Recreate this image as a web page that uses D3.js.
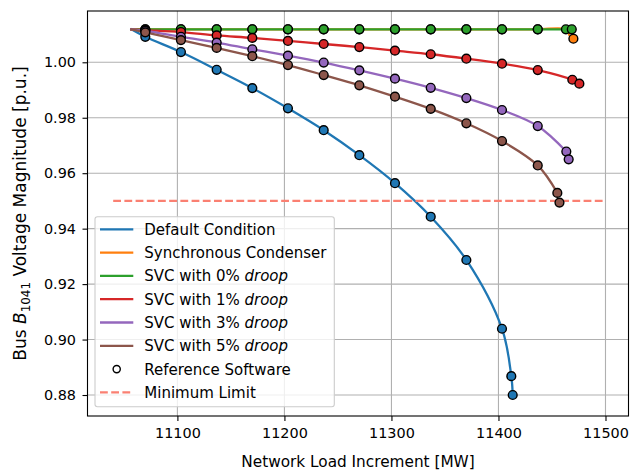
<!DOCTYPE html>
<html>
<head>
<meta charset="utf-8">
<script src="https://cdn.jsdelivr.net/npm/d3@7"></script>
<style>
  body { margin: 0; background: #fff; }
  text { font-family: "DejaVu Sans", sans-serif; }
</style>
</head>
<body>
<div id="chart"></div>
<script>
// load steps used by the reference software [MW]
const loadSteps = [11070, 11103.3, 11136.7, 11170, 11203.3, 11236.7, 11270, 11303.3, 11336.7, 11370, 11403.3, 11436.7];

// common starting operating point of all curves
const startPoint = [11057, 1.0119];

// reference software voltages at loadSteps [p.u.], plus extra points near the nose
const refDefault = [1.0092, 1.0037, 0.9973, 0.9907, 0.9834, 0.9755, 0.9665, 0.9564, 0.9443, 0.9287, 0.9039];
const refSC      = [1.0119, 1.0119, 1.0119, 1.0119, 1.0119, 1.0119, 1.0119, 1.0119, 1.0119, 1.0119, 1.0119, 1.0119];
const refSVC0    = [1.0119, 1.0119, 1.0119, 1.0119, 1.0119, 1.0119, 1.0119, 1.0119, 1.0119, 1.0119, 1.0119, 1.0119];
const refSVC1    = [1.0116, 1.0109, 1.0097, 1.0088, 1.0077, 1.0066, 1.0055, 1.0042, 1.0029, 1.0013, 0.9995, 0.9972];
const refSVC3    = [1.0113, 1.0092, 1.0071, 1.0047, 1.0024, 0.9999, 0.9971, 0.9941, 0.9908, 0.9871, 0.9828, 0.9770];
const refSVC5    = [1.0108, 1.0080, 1.0052, 1.0022, 0.9990, 0.9954, 0.9917, 0.9876, 0.9832, 0.9780, 0.9716, 0.9628];

const refTailDefault = [[11412, 0.8868], [11413.3, 0.8800]];
const refTailSC      = [[11470, 1.0085]];
const refTailSVC0    = [[11463, 1.0119], [11468.5, 1.0119]];
const refTailSVC1    = [[11469, 0.9937], [11475.6, 0.9923]];
const refTailSVC3    = [[11463.4, 0.9678], [11465.6, 0.9650]];
const refTailSVC5    = [[11455, 0.9529], [11457, 0.9494]];

// end of the curves computed by the own tool
const lineTailDefault = [[11412, 0.8868], [11413.3, 0.8800]];
const lineTailSC      = [[11463, 1.0119], [11466, 1.0100]];
const lineTailSVC0    = [[11463, 1.0119]];
const lineTailSVC1    = [[11469, 0.9937], [11475.6, 0.9923]];
const lineTailSVC3    = [[11463.4, 0.9678]];
const lineTailSVC5    = [[11455, 0.9529]];

const labels = ["Default Condition", "Synchronous Condenser", "SVC with 0% ", "SVC with 1% ", "SVC with 3% ", "SVC with 5% "];
const colors = ["#1f77b4", "#ff7f0e", "#2ca02c", "#d62728", "#9467bd", "#8c564b"];

const minLimit = 0.95;
const limitRange = [11040, 11500];

const xTicks = [11100, 11200, 11300, 11400, 11500];
const yTicks = [0.88, 0.90, 0.92, 0.94, 0.96, 0.98, 1.00];

// build the series
const refs = [refDefault, refSC, refSVC0, refSVC1, refSVC3, refSVC5];
const refTails = [refTailDefault, refTailSC, refTailSVC0, refTailSVC1, refTailSVC3, refTailSVC5];
const lineTails = [lineTailDefault, lineTailSC, lineTailSVC0, lineTailSVC1, lineTailSVC3, lineTailSVC5];

const series = refs.map((vals, i) => {
    const pts = vals.map((v, j) => [loadSteps[j], v]);
    return {
        label: labels[i],
        color: colors[i],
        markers: pts.concat(refTails[i]),
        line: [startPoint].concat(pts, lineTails[i])
    };
});

// dimensions
const width = 630, height = 472;
const margin = { top: 11, right: 1.5, bottom: 56, left: 87.5 };
const innerW = width - margin.left - margin.right;
const innerH = height - margin.top - margin.bottom;

const lineW = 2.3;

const x = d3.scaleLinear().domain([11016, 11521.5]).range([0, innerW]);
const y = d3.scaleLinear().domain([0.87243, 1.0185]).range([innerH, 0]);

const svg = d3.select("#chart").append("svg")
    .attr("width", width).attr("height", height);

const g = svg.append("g").attr("transform", `translate(${margin.left},${margin.top})`);

// grid
g.selectAll("line.xgrid").data(xTicks).join("line")
    .attr("class", "xgrid")
    .attr("x1", d => x(d)).attr("x2", d => x(d))
    .attr("y1", 0).attr("y2", innerH)
    .attr("stroke", "#b0b0b0").attr("stroke-width", 1.1);
g.selectAll("line.ygrid").data(yTicks).join("line")
    .attr("class", "ygrid")
    .attr("x1", 0).attr("x2", innerW)
    .attr("y1", d => y(d)).attr("y2", d => y(d))
    .attr("stroke", "#b0b0b0").attr("stroke-width", 1.1);

const plot = g.append("g");

// curves
const lineGen = d3.line().x(d => x(d[0])).y(d => y(d[1])).curve(d3.curveCatmullRom);
plot.selectAll("path.curve").data(series).join("path")
    .attr("class", "curve")
    .attr("d", d => lineGen(d.line))
    .attr("fill", "none")
    .attr("stroke", d => d.color)
    .attr("stroke-width", lineW)
    .attr("stroke-linecap", "square");

// minimum limit
plot.append("line")
    .attr("x1", x(limitRange[0])).attr("x2", x(limitRange[1]))
    .attr("y1", y(minLimit)).attr("y2", y(minLimit))
    .attr("stroke", "#fa8072").attr("stroke-width", lineW)
    .attr("stroke-dasharray", "7.8,3.4");

// reference software markers
series.forEach(s => {
    plot.selectAll(null).data(s.markers).join("circle")
        .attr("cx", d => x(d[0])).attr("cy", d => y(d[1]))
        .attr("r", 4.4)
        .attr("fill", s.color)
        .attr("stroke", "black").attr("stroke-width", 1.4);
});

// axes
const xAxis = g.append("g").attr("transform", `translate(0,${innerH})`)
    .call(d3.axisBottom(x).tickValues(xTicks).tickFormat(d3.format("d")).tickSize(5).tickPadding(7));
const yAxis = g.append("g")
    .call(d3.axisLeft(y).tickValues(yTicks).tickFormat(d3.format(".2f")).tickSize(5).tickPadding(6.5));
[xAxis, yAxis].forEach(a => {
    a.select(".domain").remove();
    a.selectAll("line").attr("stroke", "black").attr("stroke-width", 1.1);
    a.selectAll("text").attr("font-size", 14.4).attr("fill", "black")
        .style("font-family", "DejaVu Sans, sans-serif");
});

// spines
g.append("rect")
    .attr("width", innerW).attr("height", innerH)
    .attr("fill", "none").attr("stroke", "black").attr("stroke-width", 1.1);

// axis labels
svg.append("text")
    .attr("x", margin.left + innerW / 2).attr("y", 466.5)
    .attr("text-anchor", "middle").attr("font-size", 15.3)
    .text("Network Load Increment [MW]");

const ylab = svg.append("text")
    .attr("transform", `translate(26,${margin.top + innerH / 2}) rotate(-90)`)
    .attr("text-anchor", "middle").attr("font-size", 17);
ylab.append("tspan").text("Bus ");
ylab.append("tspan").attr("font-style", "italic").text("B");
ylab.append("tspan").attr("font-size", 11.9).attr("dy", 3.7).text("1041");
ylab.append("tspan").attr("dy", -3.7).text(" Voltage Magnitude [p.u.]");

// legend
const legX = 95, legY = 216.7, legW = 239.3, legH = 190, rowH = 23.3, firstRow = 12.6;
const legendG = svg.append("g").attr("transform", `translate(${legX},${legY})`);
legendG.append("rect")
    .attr("width", legW).attr("height", legH).attr("rx", 2.5)
    .attr("fill", "white").attr("fill-opacity", 0.8)
    .attr("stroke", "#cccccc").attr("stroke-width", 1.1);

const legendItems = series.map((s, i) => ({ type: "line", color: s.color, label: s.label, italic: i >= 2 }))
    .concat([{ type: "marker", label: "Reference Software" }, { type: "dash", color: "#fa8072", label: "Minimum Limit" }]);

const rows = legendG.selectAll("g.row").data(legendItems).join("g")
    .attr("class", "row")
    .attr("transform", (d, i) => `translate(0,${firstRow + i * rowH})`);

rows.filter(d => d.type !== "marker").append("line")
    .attr("x1", 5).attr("x2", 38.3)
    .attr("stroke", d => d.color).attr("stroke-width", lineW)
    .attr("stroke-dasharray", d => d.type === "dash" ? "7.8,3.4" : null);

rows.filter(d => d.type === "marker").append("circle")
    .attr("cx", 21.7).attr("r", 3.6)
    .attr("fill", "white").attr("stroke", "black").attr("stroke-width", 1.4);

const rowText = rows.append("text")
    .attr("x", 49.3).attr("dy", "0.36em").attr("font-size", 15);
rowText.append("tspan").text(d => d.label);
rowText.filter(d => d.italic).append("tspan").attr("font-style", "italic").text("droop");
</script>
</body>
</html>
